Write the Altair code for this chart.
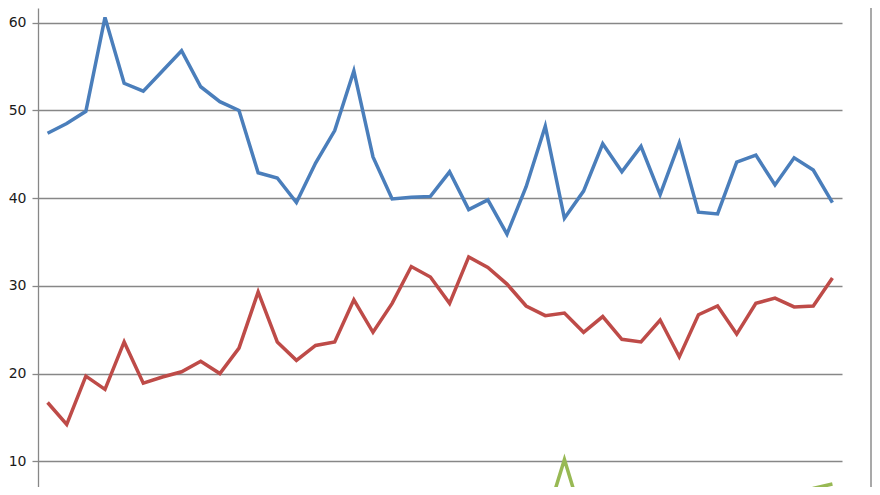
import altair as alt
import pandas as pd

# category index (42 periods)
periods = list(range(42))

series_names = ["Series 1", "Series 2", "Series 3"]

blue_values = [47.4, 48.5, 49.9, 60.6, 53.1, 52.2, 54.5, 56.8, 52.7, 51.0,
               50.0, 42.9, 42.3, 39.5, 44.0, 47.7, 54.5, 44.7, 39.9, 40.1,
               40.2, 43.0, 38.7, 39.8, 35.9, 41.3, 48.2, 37.7, 40.8, 46.2,
               43.0, 45.9, 40.4, 46.3, 38.4, 38.2, 44.1, 44.9, 41.5, 44.6,
               43.2, 39.5]

red_values = [16.7, 14.2, 19.7, 18.2, 23.6, 18.9, 19.6, 20.2, 21.4, 20.0,
              22.9, 29.3, 23.6, 21.5, 23.2, 23.6, 28.4, 24.7, 28.0, 32.2,
              31.0, 28.0, 33.3, 32.1, 30.2, 27.7, 26.6, 26.9, 24.7, 26.5,
              23.9, 23.6, 26.1, 21.9, 26.7, 27.7, 24.5, 28.0, 28.6, 27.6,
              27.7, 30.9]

green_values = [2.1, 1.8, 2.5, 2.0, 3.1, 2.4, 2.6, 2.2, 3.0, 2.7,
                3.3, 2.9, 3.5, 3.0, 3.8, 3.4, 4.0, 3.6, 4.5, 4.2,
                5.6, 5.0, 5.7, 5.2, 5.4, 4.8, 3.1, 10.2, 3.0, 4.6,
                5.2, 4.9, 5.5, 5.0, 6.2, 5.6, 5.3, 5.5, 6.2, 5.4,
                6.9, 7.4]

y_ticks = [10, 20, 30, 40, 50, 60]

rows = []
for name, vals in zip(series_names, [blue_values, red_values, green_values]):
    for p, v in zip(periods, vals):
        rows.append({"period": p, "value": v, "series": name})
df = pd.DataFrame(rows)

GRID = "#878787"
H = 479
Y_TOP = 61.68
Y_BOTTOM = Y_TOP - H / 8.77

lines = alt.Chart(df).mark_line(strokeWidth=3.5, clip=True).encode(
    x=alt.X("period:Q", scale=alt.Scale(domain=[-0.5, 41.5], nice=False, zero=False), axis=None),
    y=alt.Y("value:Q",
            scale=alt.Scale(domain=[Y_BOTTOM, Y_TOP], nice=False, zero=False),
            axis=alt.Axis(values=y_ticks, grid=True, gridColor=GRID, gridWidth=1.3,
                          domainColor=GRID, domainWidth=1.3, tickColor=GRID, tickWidth=1.3,
                          tickSize=6, labelFont="DejaVu Sans", labelFontSize=14,
                          labelColor="#1a1a1a", labelPadding=6, title=None)),
    color=alt.Color("series:N",
                    scale=alt.Scale(domain=series_names,
                                    range=["#4A7EBB", "#BE4B48", "#98B954"]),
                    legend=None),
)

border = alt.Chart(pd.DataFrame({"a": [0]})).mark_rule(
    color="#8c8c8c", strokeWidth=1.5, clip=False
).encode(x=alt.value(833), y=alt.value(0), y2=alt.value(H))

chart = alt.layer(lines, border).properties(
    width=804, height=H,
    autosize=alt.AutoSizeParams(type="none"),
    padding={"left": 30, "top": 0, "right": 30, "bottom": 0},
    background="white",
).configure_view(stroke=None)

chart.save("out.html", embed_options={"renderer": "svg", "actions": False})
